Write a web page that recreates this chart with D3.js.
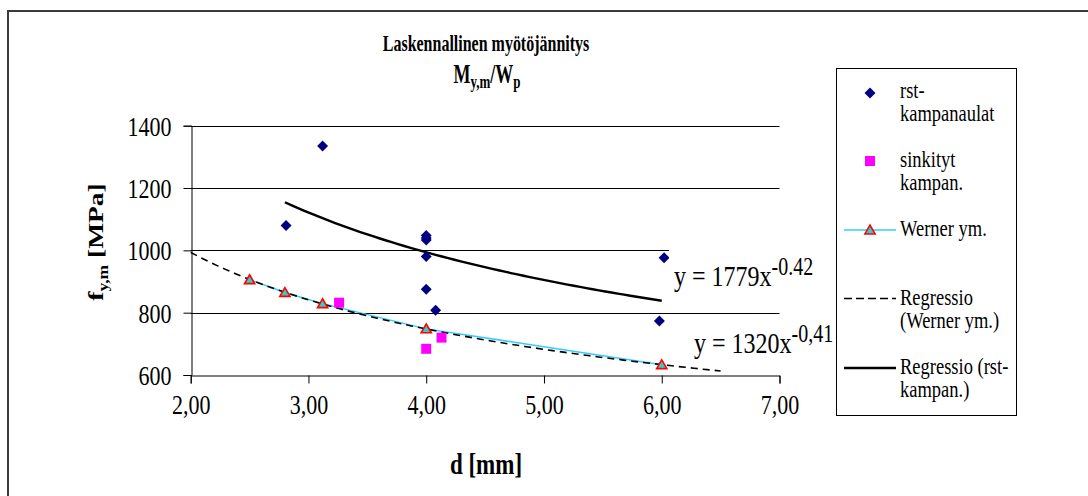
<!DOCTYPE html>
<html>
<head>
<meta charset="utf-8">
<script src="https://cdn.jsdelivr.net/npm/d3@7"></script>
<style>
  body { margin: 0; background: #fff; }
  svg { display: block; }
  text { font-family: "Liberation Serif", "Times New Roman", serif; fill: #000; }
</style>
</head>
<body>
<svg id="chart" width="1088" height="496"></svg>
<script>
// Axis ticks
const xTicks = [2, 3, 4, 5, 6, 7];
const yTicks = [600, 800, 1000, 1200, 1400];

// rst-kampanaulat: diameter d [mm] and yield stress f [MPa]
const rstD = [2.81, 3.12, 4.0, 4.0, 4.0, 4.0, 4.0, 4.08, 6.02, 5.98];
const rstF = [1080, 1335, 1048, 1040, 1033, 980, 875, 808, 976, 773];

// sinkityt kampanaulat
const sinkD = [3.26, 4.0, 4.13];
const sinkF = [832, 684, 720];

// Werner ym.
const wernerD = [2.5, 2.8, 3.12, 4.0, 6.0];
const wernerF = [906, 865, 829, 748, 633];

// Power-law trendlines y = a * x^b, coefficients as printed on the chart
const trendA = [1779, 1320];
const trendB = [-0.42, -0.41];
const trendFrom = [2.8, 2.0];
const trendTo = [6.0, 6.5];
const trendLabelsA = ["1779", "1320"];
const trendLabelsB = ["-0.42", "-0,41"];

// legend entries
const legendLines = [["rst-", "kampanaulat"], ["sinkityt", "kampan."], ["Werner ym."],
                     ["Regressio", "(Werner ym.)"], ["Regressio (rst-", "kampan.)"]];

const K = 1.25;   // vertical stretch of the text glyphs
const svg = d3.select("#chart");

// text placed at (x, y) baseline, glyphs stretched vertically by k
function stext(parent, x, y, size, bold, k = K) {
  return parent.append("text")
    .attr("transform", `translate(${x},${y}) scale(1,${k})`)
    .style("font-size", size + "px")
    .style("font-weight", bold ? "bold" : "normal");
}

// chart frame
svg.append("rect")
  .attr("x", 8).attr("y", 11).attr("width", 1100).attr("height", 500)
  .attr("fill", "#fff").attr("stroke", "#3a3a3a").attr("stroke-width", 2);

const x = d3.scaleLinear().domain([2, 7]).range([190.7, 779.5]);
const y = d3.scaleLinear().domain([600, 1400]).range([375, 125.7]);

// horizontal gridlines
svg.append("g").selectAll("line")
  .data(yTicks.filter(v => v > 600))
  .join("line")
  .attr("x1", x(2)).attr("x2", x(7))
  .attr("y1", d => Math.round(y(d)) + 0.5).attr("y2", d => Math.round(y(d)) + 0.5)
  .attr("stroke", "#000").attr("stroke-width", 1);

// axes
const xAxis = d3.axisBottom(x).tickValues(xTicks).tickSize(8)
  .tickFormat(d => d3.format(".2f")(d).replace(".", ","));
const gx = svg.append("g").attr("transform", `translate(0,${Math.round(y(600)) + 0.5})`).call(xAxis);
const yAxis = d3.axisLeft(y).tickValues(yTicks).tickSize(8).tickFormat(d3.format("d"));
const gy = svg.append("g").attr("transform", `translate(${Math.round(x(2)) + 0.5},0)`).call(yAxis);
[gx, gy].forEach(g => {
  g.attr("font-family", null).attr("font-size", null);
  g.select(".domain").attr("stroke", "#000");
  g.selectAll(".tick line").attr("stroke", "#000");
  g.selectAll(".tick text")
    .style("font-family", '"Liberation Serif", serif')
    .style("font-size", "22px").attr("fill", "#000")
    .attr("x", null).attr("y", null).attr("dy", null);
});
gx.selectAll(".tick text").attr("transform", `translate(0,38.5) scale(1,${K})`);
gy.selectAll(".tick text").attr("transform", `translate(-20,9.5) scale(1,${K})`);

// Werner ym. data line
svg.append("path")
  .datum(d3.range(wernerD.length))
  .attr("fill", "none").attr("stroke", "#33CCFF").attr("stroke-width", 1.5)
  .attr("d", d3.line().x(i => x(wernerD[i])).y(i => y(wernerF[i])));

// trendlines
const trendDash = [null, "7,5"];
const trendWidth = [2.4, 1.6];
trendA.forEach((a, k) => {
  const xs = d3.range(0, 61).map(i => trendFrom[k] + (trendTo[k] - trendFrom[k]) * i / 60);
  svg.append("path")
    .datum(xs)
    .attr("fill", "none").attr("stroke", "#000")
    .attr("stroke-width", trendWidth[k])
    .attr("stroke-dasharray", trendDash[k])
    .attr("d", d3.line().x(d => x(d)).y(d => y(a * Math.pow(d, trendB[k]))));
});

// marker shapes
const diamond = d3.symbol().type(d3.symbolSquare).size(60);
const square = d3.symbol().type(d3.symbolSquare).size(100);
const triangle = d3.symbol().type(d3.symbolTriangle).size(45);

svg.append("g").selectAll("path")
  .data(d3.range(rstD.length))
  .join("path")
  .attr("transform", i => `translate(${x(rstD[i])},${y(rstF[i])}) rotate(45)`)
  .attr("d", diamond).attr("fill", "#000080");

svg.append("g").selectAll("path")
  .data(d3.range(sinkD.length))
  .join("path")
  .attr("transform", i => `translate(${x(sinkD[i])},${y(sinkF[i])})`)
  .attr("d", square).attr("fill", "#FF00FF");

svg.append("g").selectAll("path")
  .data(d3.range(wernerD.length))
  .join("path")
  .attr("transform", i => `translate(${x(wernerD[i])},${y(wernerF[i]) + 1})`)
  .attr("d", triangle).attr("fill", "#33CCCC").attr("stroke", "#FF0000").attr("stroke-width", 1.6);

// trendline equation labels on white boxes
const eqBox = [[669, 240, 170, 52], [688, 318, 160, 44]];
const eqBase = [[674, 286], [694, 353]];
trendA.forEach((a, k) => {
  const b = eqBox[k];
  svg.append("rect").attr("x", b[0]).attr("y", b[1]).attr("width", b[2]).attr("height", b[3]).attr("fill", "#fff");
  const t = stext(svg, eqBase[k][0], eqBase[k][1], 24, false);
  t.append("tspan").text(`y = ${trendLabelsA[k]}x`);
  t.append("tspan").attr("dy", -9).style("font-size", "20px").text(trendLabelsB[k]);
});

// title
const KT = 1.5;
stext(svg, 486, 51, 16, true, KT).attr("text-anchor", "middle").text("Laskennallinen myötöjännitys");
const t2 = stext(svg, 487, 83, 18, true, KT).attr("text-anchor", "middle");
t2.append("tspan").text("M");
t2.append("tspan").attr("dy", 3).style("font-size", "13px").text("y,m");
t2.append("tspan").attr("dy", -3).text("/W");
t2.append("tspan").attr("dy", 3).style("font-size", "13px").text("p");

// axis titles
stext(svg, 486, 474, 23, true).attr("text-anchor", "middle").text("d [mm]");
const yt = svg.append("text")
  .attr("transform", `translate(103,242) rotate(-90) scale(${K},1)`)
  .attr("text-anchor", "middle").style("font-weight", "bold").style("font-size", "22px");
yt.append("tspan").text("f");
yt.append("tspan").attr("dy", 5).style("font-size", "14px").text("y,m");
yt.append("tspan").attr("dy", -5).text(" [MPa]");

// legend
const lg = svg.append("g");
lg.append("rect").attr("x", 836.5).attr("y", 68.5).attr("width", 180).attr("height", 347)
  .attr("fill", "#fff").attr("stroke", "#000").attr("stroke-width", 1);
const legendY = [98, 167, 236, 305, 374];
legendLines.forEach((lines, k) => {
  lines.forEach((s, j) => stext(lg, 900, legendY[k] + j * 23, 18.5, false, 1.2).text(s));
});
lg.append("path").attr("transform", "translate(870,93) rotate(45)").attr("d", diamond).attr("fill", "#000080");
lg.append("path").attr("transform", "translate(870,161)").attr("d", square).attr("fill", "#FF00FF");
lg.append("line").attr("x1", 844).attr("x2", 896).attr("y1", 230).attr("y2", 230).attr("stroke", "#33CCFF").attr("stroke-width", 1.5);
lg.append("path").attr("transform", "translate(870,231)").attr("d", triangle).attr("fill", "#33CCCC").attr("stroke", "#FF0000").attr("stroke-width", 1.6);
lg.append("line").attr("x1", 844).attr("x2", 896).attr("y1", 298.5).attr("y2", 298.5).attr("stroke", "#000").attr("stroke-width", 1.6).attr("stroke-dasharray", "8,4");
lg.append("line").attr("x1", 844).attr("x2", 896).attr("y1", 368).attr("y2", 368).attr("stroke", "#000").attr("stroke-width", 2.4);
</script>
</body>
</html>
